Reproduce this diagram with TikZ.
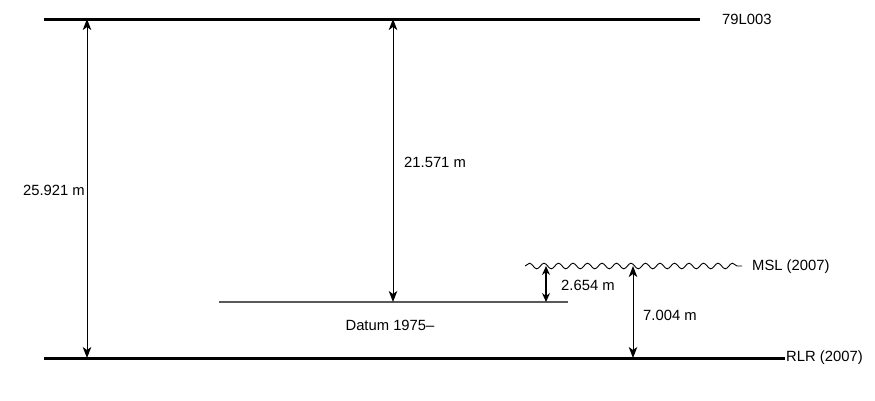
\documentclass[tikz,border=0pt]{standalone}
\usepackage{fontspec}
\setmainfont{Liberation Sans}
\usetikzlibrary{arrows.meta,decorations.pathmorphing}
\begin{document}
\begin{tikzpicture}[x=1pt,y=-1pt,
  level/.style={line width=3pt},
  datumline/.style={line width=1.4pt, draw=black!65},
  dim/.style={line width=1pt, {Stealth[length=11pt,width=8.5pt,inset=3pt]}-{Stealth[length=11pt,width=8.5pt,inset=3pt]}},
  dimthick/.style={line width=1.8pt, {Stealth[length=9pt,width=8pt,inset=3pt]}-{Stealth[length=9pt,width=8pt,inset=3pt]}},
  lbl/.style={font=\fontsize{14.8}{17}\selectfont, inner sep=0pt},
  wave/.style={line width=0.9pt, decorate, decoration={snake, segment length=14.5pt, amplitude=2.8pt}}]
\useasboundingbox (0,0) rectangle (875,400);
% levels
\coordinate (t0) at (44,19); \coordinate (t1) at (700,19);
\coordinate (b0) at (44,358); \coordinate (b1) at (785,358);
\coordinate (d0) at (219,302); \coordinate (d1) at (568,302);
\coordinate (m0) at (525,266); \coordinate (m1) at (742,266);
\draw[level] (t0) -- (t1);
\draw[level] (b0) -- (b1);
\draw[datumline] (d0) -- (d1);
\draw[wave] (m0) -- (m1);
\node[lbl, anchor=west] (toplbl) at (722,19) {79L003};
\node[lbl, anchor=west] (rlr) at (786,358) {RLR (2007)};
\node[lbl, anchor=west] (msl) at (752,267) {MSL (2007)};
\node[lbl] (datum) at (390,325) {Datum 1975–};
% dimension arrows
\coordinate (a1t) at (87,19); \coordinate (a1b) at (87,358);
\coordinate (a2t) at (393,19); \coordinate (a2b) at (393,302);
\coordinate (a3t) at (546,266); \coordinate (a3b) at (546,302);
\coordinate (a4t) at (633,266); \coordinate (a4b) at (633,358);
\draw[dim] (a1t) -- (a1b);
\draw[dim] (a2t) -- (a2b);
\draw[dimthick] (a3t) -- (a3b);
\draw[dim] (a4t) -- (a4b);
\node[lbl, anchor=east] (l1) at (85,190) {25.921 m};
\node[lbl, anchor=west] (l2) at (404,162) {21.571 m};
\node[lbl, anchor=west] (l3) at (561,285) {2.654 m};
\node[lbl, anchor=west] (l4) at (643,315) {7.004 m};
\end{tikzpicture}
\end{document}
